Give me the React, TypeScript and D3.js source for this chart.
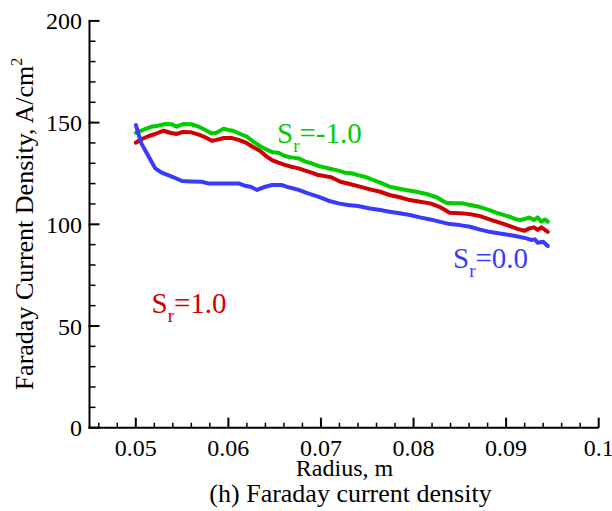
import React from "react";
import * as d3 from "d3";

const W = 612;
const H = 511;

// Sr = -1.0 (green)
const greenX = [0.0500,0.0508,0.0517,0.0524,0.0532,0.0539,0.0544,0.0551,0.0560,0.0568,0.0575,0.0582,0.0587,0.0595,0.0600,0.0605,0.0613,0.0620,0.0627,0.0634,0.0641,0.0648,0.0654,0.0661,0.0668,0.0676,0.0683,0.0690,0.0697,0.0704,0.0711,0.0719,0.0726,0.0733,0.0740,0.0747,0.0756,0.0764,0.0774,0.0782,0.0792,0.0803,0.0814,0.0825,0.0835,0.0843,0.0853,0.0861,0.0871,0.0882,0.0889,0.0897,0.0904,0.0911,0.0916,0.0922,0.0925,0.0930,0.0934,0.0938,0.0942,0.0945];
const greenY = [145.0,146.4,148.0,148.5,149.3,149.2,148.0,149.3,149.2,148.0,146.4,144.7,145.0,147.0,146.4,146.0,144.4,143.1,140.6,138.5,136.8,135.4,135.2,133.6,132.9,132.4,130.8,130.0,128.7,128.0,127.2,126.4,125.4,125.1,124.2,123.4,121.8,120.5,118.5,117.7,116.9,116.0,114.9,113.3,110.6,110.3,110.3,109.5,108.6,107.0,105.7,104.6,103.7,102.4,102.1,102.9,103.4,102.1,103.4,101.3,102.4,101.3];

// Sr = 1.0 (red)
const redX = [0.0500,0.0506,0.0514,0.0521,0.0530,0.0537,0.0544,0.0551,0.0560,0.0568,0.0575,0.0582,0.0587,0.0595,0.0604,0.0611,0.0619,0.0627,0.0634,0.0641,0.0647,0.0654,0.0661,0.0668,0.0676,0.0683,0.0690,0.0697,0.0704,0.0711,0.0721,0.0731,0.0742,0.0753,0.0764,0.0774,0.0785,0.0796,0.0807,0.0818,0.0828,0.0839,0.0850,0.0861,0.0871,0.0882,0.0893,0.0904,0.0914,0.0920,0.0925,0.0930,0.0934,0.0938,0.0942,0.0945];
const redY = [140.1,141.8,143.4,144.4,146.0,145.0,144.4,145.4,145.2,144.1,142.8,141.1,141.5,142.4,142.4,141.5,140.1,137.9,136.2,133.4,131.6,130.3,129.2,128.3,127.5,126.4,125.4,124.2,123.7,123.1,120.9,119.8,118.5,117.2,116.0,114.4,113.3,111.9,111.1,110.3,108.6,105.7,105.4,105.0,104.1,102.4,100.8,99.1,97.5,96.8,98.0,98.5,97.2,98.5,97.2,96.3];

// Sr = 0.0 (blue)
const blueX = [0.0500,0.0506,0.0514,0.0521,0.0528,0.0539,0.0550,0.0560,0.0571,0.0578,0.0589,0.0600,0.0611,0.0619,0.0624,0.0631,0.0638,0.0647,0.0658,0.0665,0.0676,0.0686,0.0697,0.0708,0.0719,0.0729,0.0740,0.0753,0.0764,0.0774,0.0785,0.0796,0.0807,0.0818,0.0828,0.0839,0.0850,0.0861,0.0871,0.0882,0.0893,0.0904,0.0914,0.0922,0.0927,0.0931,0.0934,0.0940,0.0945];
const blueY = [148.8,139.8,133.2,127.5,125.4,123.4,121.3,121.1,120.9,120.1,120.1,120.1,120.1,118.8,118.5,116.9,118.2,119.3,119.3,118.2,116.9,115.2,113.6,111.6,110.3,109.5,109.0,107.8,107.0,106.2,105.4,104.6,103.4,102.4,101.3,100.1,99.6,98.8,97.5,96.3,95.5,94.7,93.9,93.1,92.3,92.6,90.9,91.4,89.3];

const xMajorTicks = [0.05, 0.06, 0.07, 0.08, 0.09, 0.1];
const xTickLabels = ["0.05", "0.06", "0.07", "0.08", "0.09", "0.1"];
const yMajorTicks = [0, 50, 100, 150, 200];
const yTickLabels = ["0", "50", "100", "150", "200"];

const xLabel = "Radius, m";
const yLabel = "Faraday Current Density, A/cm";
const caption = "(h) Faraday current density";

const FONT = "'Liberation Serif', 'Times New Roman', Times, serif";

export default function App() {
  const x = d3.scaleLinear().domain([0.045, 0.1]).range([89.5, 598.7]);
  const y = d3.scaleLinear().domain([0, 200]).range([427.7, 20.9]);

  const xMinor = d3.range(0.046, 0.1 + 1e-9, 0.002).filter(
    (v) => !xMajorTicks.some((m) => Math.abs(m - v) < 1e-6)
  );
  const yMinor = d3.range(0, 200 + 1e-9, 10).filter(
    (v) => !yMajorTicks.some((m) => Math.abs(m - v) < 1e-6)
  );

  const line = d3
    .line<[number, number]>()
    .x((d) => x(d[0]))
    .y((d) => y(d[1]));

  const series = [
    { xs: redX, ys: redY, color: "#d00000" },
    { xs: greenX, ys: greenY, color: "#00cc00" },
    { xs: blueX, ys: blueY, color: "#3a3aff" },
  ];

  const x0 = x(0.045);
  const y0 = y(0);

  return (
    <svg
      width={W}
      height={H}
      style={{ position: "absolute", left: 0, top: 0, background: "#fff" }}
      fontFamily={FONT}
    >
      <rect x={0} y={0} width={W} height={H} fill="#fff" />
      {series.map((s, i) => (
        <path
          key={i}
          d={line(s.xs.map((v, j) => [v, s.ys[j]] as [number, number])) || ""}
          fill="none"
          stroke={s.color}
          strokeWidth={4}
          strokeLinejoin="round"
          strokeLinecap="round"
        />
      ))}

      {/* axes */}
      <line x1={x0} y1={y(200)} x2={x0} y2={y0} stroke="#000" strokeWidth={2} />
      <line x1={x0 - 1} y1={y0} x2={x(0.1)} y2={y0} stroke="#000" strokeWidth={2} />

      {xMajorTicks.map((v, i) => (
        <g key={"xm" + i}>
          <line x1={x(v)} x2={x(v)} y1={y0} y2={y0 - 10} stroke="#000" strokeWidth={2} />
          <text x={x(v)} y={455.5} fontSize={24} textAnchor="middle" fill="#000">
            {xTickLabels[i]}
          </text>
        </g>
      ))}
      {xMinor.map((v, i) => (
        <line key={"xn" + i} x1={x(v)} x2={x(v)} y1={y0} y2={y0 - 5} stroke="#000" strokeWidth={1.5} />
      ))}

      {yMajorTicks.map((v, i) => (
        <g key={"ym" + i}>
          <line x1={x0 - 1} x2={x0 + 10} y1={y(v)} y2={y(v)} stroke="#000" strokeWidth={2} />
          <text x={82} y={y(v) + 8.5} fontSize={24} textAnchor="end" fill="#000">
            {yTickLabels[i]}
          </text>
        </g>
      ))}
      {yMinor.map((v, i) => (
        <line key={"yn" + i} x1={x0} x2={x0 + 6} y1={y(v)} y2={y(v)} stroke="#000" strokeWidth={1.5} />
      ))}

      {/* axis titles */}
      <text x={344.5} y={476} fontSize={24} textAnchor="middle" fill="#000">
        {xLabel}
      </text>
      <text
        transform={`translate(33,224) rotate(-90)`}
        fontSize={26}
        textAnchor="middle"
        fill="#000"
      >
        {yLabel}
        <tspan fontSize={16} dy={-11}>2</tspan>
      </text>
      <text x={350.5} y={502} fontSize={26} textAnchor="middle" fill="#000">
        {caption}
      </text>

      {/* series labels */}
      <text x={277} y={143} fontSize={29} fill="#00cc00">
        S<tspan fontSize={19} dy={9}>r</tspan>
        <tspan dy={-9}>=-1.0</tspan>
      </text>
      <text x={453} y={268} fontSize={29} fill="#3a3aff">
        S<tspan fontSize={19} dy={9}>r</tspan>
        <tspan dy={-9}>=0.0</tspan>
      </text>
      <text x={151.5} y={313} fontSize={29} fill="#d00000">
        S<tspan fontSize={19} dy={9}>r</tspan>
        <tspan dy={-9}>=1.0</tspan>
      </text>
    </svg>
  );
}
